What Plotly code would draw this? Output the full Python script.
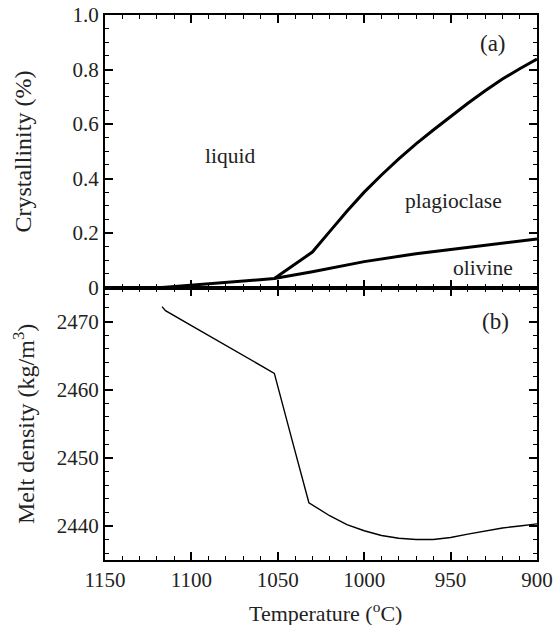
import plotly.graph_objects as go
from plotly.subplots import make_subplots

# ---- data ----
temp_olivine = [1117, 1100, 1080, 1052, 1030, 1000, 970, 940, 900]
cryst_olivine = [0.0, 0.009, 0.019, 0.033, 0.058, 0.095, 0.124, 0.148, 0.178]

temp_total = [1052, 1030, 1020, 1010, 1000, 990, 980, 970, 960, 950, 940, 930, 920, 910, 900]
cryst_total = [0.033, 0.130, 0.205, 0.280, 0.350, 0.413, 0.472, 0.527, 0.578, 0.628,
               0.676, 0.722, 0.765, 0.803, 0.838]

temp_density = [1117, 1115, 1100, 1080, 1052, 1041, 1032, 1020, 1010, 1000, 990, 980,
                970, 960, 950, 940, 930, 920, 910, 900]
melt_density = [2472.2, 2471.6, 2469.4, 2466.5, 2462.4, 2451.9, 2443.4, 2441.5, 2440.2,
                2439.3, 2438.6, 2438.2, 2438.0, 2438.0, 2438.3, 2438.8, 2439.3, 2439.7,
                2440.0, 2440.3]

x_ticks = [1150, 1100, 1050, 1000, 950, 900]
cryst_ticks = [0, 0.2, 0.4, 0.6, 0.8, 1.0]
cryst_ticktext = ["0", "0.2", "0.4", "0.6", "0.8", "1.0"]
density_ticks = [2440, 2450, 2460, 2470]

region_labels = ["liquid", "plagioclase", "olivine"]
region_x = [1077.7, 948.4, 931.0]
region_y = [0.484, 0.319, 0.070]

FONT = "Liberation Serif"
TXT = "#222"

fig = make_subplots(rows=2, cols=1, shared_xaxes=True, vertical_spacing=0)

fig.add_trace(go.Scatter(x=temp_olivine, y=cryst_olivine, mode="lines",
                         line=dict(color="black", width=3)), row=1, col=1)
fig.add_trace(go.Scatter(x=temp_total, y=cryst_total, mode="lines",
                         line=dict(color="black", width=3)), row=1, col=1)
fig.add_trace(go.Scatter(x=temp_density, y=melt_density, mode="lines",
                         line=dict(color="black", width=1.4)), row=2, col=1)

axis_common = dict(
    showline=True, linecolor="black", linewidth=2, mirror="ticks",
    ticks="inside", ticklen=8, tickwidth=1.5, tickcolor="black",
    showgrid=False, zeroline=False, automargin=False, ticklabeloverflow="allow",
    tickfont=dict(family=FONT, size=21, color=TXT),
)

fig.update_xaxes(**axis_common, range=[1150, 900], tickvals=x_ticks,
                 minor=dict(ticks="inside", dtick=10, ticklen=4, tickwidth=1.2,
                            tickcolor="black", showgrid=False))
fig.update_xaxes(showticklabels=False, row=1, col=1)

fig.update_yaxes(**axis_common, row=1, col=1, range=[0, 1.0], tickvals=cryst_ticks,
                 ticktext=cryst_ticktext,
                 minor=dict(ticks="inside", dtick=0.05, ticklen=4, tickwidth=1.2,
                            tickcolor="black", showgrid=False))
fig.update_yaxes(**axis_common, row=2, col=1, range=[2435, 2475], tickvals=density_ticks,
                 minor=dict(ticks="inside", dtick=2, ticklen=4, tickwidth=1.2,
                            tickcolor="black", showgrid=False))

ann = []
for t, xx, yy in zip(region_labels, region_x, region_y):
    ann.append(dict(text=t, x=xx, y=yy, xref="x", yref="y", showarrow=False,
                    font=dict(family=FONT, size=21.5, color=TXT)))
ann.append(dict(text="(a)", x=925.5, y=0.897, xref="x", yref="y", showarrow=False,
                font=dict(family=FONT, size=23, color=TXT)))
ann.append(dict(text="(b)", x=924.3, y=2470, xref="x2", yref="y2", showarrow=False,
                font=dict(family=FONT, size=23, color=TXT)))
ann.append(dict(text="Crystallinity (%)", x=-0.189, y=0.75, xref="paper", yref="paper",
                textangle=-90, showarrow=False, xanchor="center", yanchor="middle",
                font=dict(family=FONT, size=24, color=TXT)))
ann.append(dict(text="Melt density (kg/m<sup>3</sup>)", x=-0.189, y=0.25, xref="paper",
                yref="paper", textangle=-90, showarrow=False, xanchor="center",
                yanchor="middle", font=dict(family=FONT, size=24, color=TXT)))
ann.append(dict(text="Temperature (<sup>o</sup>C)", x=0.51, y=-0.0954, xref="paper",
                yref="paper", showarrow=False, xanchor="center", yanchor="middle",
                font=dict(family=FONT, size=22, color=TXT)))

fig.update_layout(
    template="none",
    width=554, height=625,
    margin=dict(l=105, r=17, t=15, b=65),
    plot_bgcolor="white", paper_bgcolor="white",
    showlegend=False,
    annotations=ann,
)

# remove the default 8px page margin so the figure fills the window exactly
fig.write_html("out.html", config={"displayModeBar": False},
               post_script="document.body.style.margin='0';")
